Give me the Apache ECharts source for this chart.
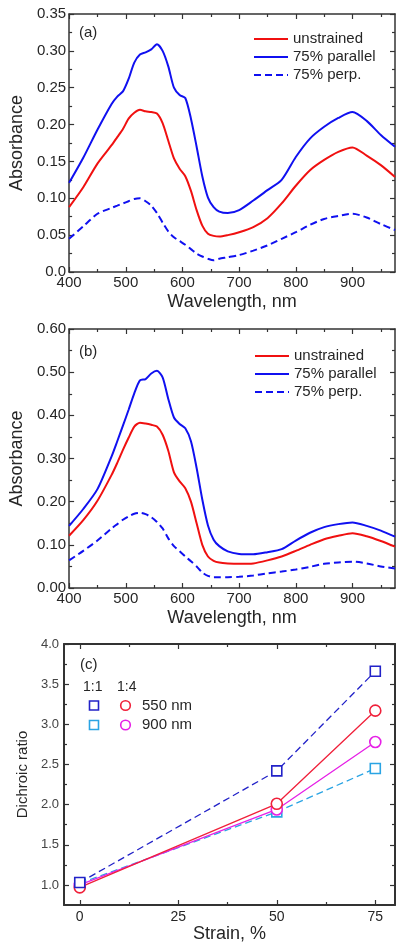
<!DOCTYPE html>
<html>
<head>
<meta charset="utf-8">
<script src="https://cdn.jsdelivr.net/npm/echarts@6/dist/echarts.min.js"></script>
<style>html,body{margin:0;padding:0;background:#fff}#chart{width:404px;height:950px}</style>
</head>
<body>
<div id="chart"></div>
<script>
// ---------- DATA ----------
const wavelengths = [400,425,450,475,485,495,505,515,525,535,545,555,565,575,585,595,605,615,625,635,645,655,665,680,700,725,750,775,800,825,850,875,900,925,950,975];

// Panel (a)
const aUnstrained = [0.088,0.115,0.147,0.172,0.183,0.194,0.208,0.216,0.220,0.218,0.217,0.215,0.202,0.178,0.154,0.140,0.130,0.110,0.084,0.063,0.052,0.049,0.048,0.050,0.054,0.061,0.073,0.093,0.117,0.138,0.152,0.163,0.169,0.158,0.145,0.129];
const aParallel   = [0.121,0.155,0.193,0.228,0.238,0.245,0.262,0.284,0.295,0.298,0.302,0.309,0.300,0.279,0.250,0.240,0.236,0.208,0.170,0.130,0.101,0.088,0.082,0.080,0.084,0.097,0.111,0.125,0.156,0.181,0.197,0.209,0.217,0.205,0.186,0.170];
const aPerp       = [0.045,0.062,0.079,0.087,0.090,0.093,0.096,0.099,0.100,0.096,0.090,0.080,0.067,0.055,0.047,0.042,0.037,0.031,0.025,0.021,0.018,0.016,0.018,0.020,0.023,0.029,0.036,0.045,0.054,0.064,0.072,0.076,0.079,0.074,0.065,0.057];

// Panel (b)
const bUnstrained = [0.121,0.157,0.202,0.262,0.290,0.320,0.348,0.374,0.383,0.381,0.378,0.374,0.355,0.318,0.268,0.247,0.231,0.200,0.150,0.100,0.073,0.063,0.059,0.057,0.056,0.057,0.064,0.073,0.086,0.100,0.113,0.121,0.127,0.120,0.109,0.096];
const bParallel   = [0.144,0.183,0.229,0.305,0.340,0.376,0.413,0.451,0.481,0.484,0.497,0.503,0.488,0.438,0.395,0.380,0.370,0.340,0.278,0.205,0.145,0.112,0.097,0.085,0.079,0.078,0.083,0.090,0.110,0.128,0.141,0.148,0.152,0.144,0.133,0.119];
const bPerp       = [0.064,0.086,0.110,0.138,0.148,0.158,0.166,0.172,0.174,0.171,0.164,0.153,0.138,0.115,0.097,0.085,0.073,0.062,0.050,0.036,0.028,0.025,0.025,0.025,0.026,0.029,0.034,0.038,0.043,0.049,0.056,0.059,0.061,0.057,0.050,0.045];

// Panel (c)
const strain = [0, 50, 75];
const ratio11_550 = [1.03, 2.42, 3.66];
const ratio11_900 = [1.02, 1.91, 2.45];
const ratio14_550 = [0.97, 2.01, 3.17];
const ratio14_900 = [1.00, 1.94, 2.78];

// Tick values
const wlMajor = [400,500,600,700,800,900];
const wlMinor = [450,550,650,750,850,950];
const aYMajor = [0,0.05,0.10,0.15,0.20,0.25,0.30,0.35];
const aYMinor = [0.025,0.075,0.125,0.175,0.225,0.275,0.325];
const bYMajor = [0,0.10,0.20,0.30,0.40,0.50,0.60];
const bYMinor = [0.05,0.15,0.25,0.35,0.45,0.55];
const cXMajor = [0,25,50,75];
const cXMinor = [12.5,37.5,62.5];
const cYMajor = [1.0,1.5,2.0,2.5,3.0,3.5,4.0];
const cYMinor = [1.25,1.75,2.25,2.75,3.25,3.75];

// ---------- BUILD ----------
const FONT = 'Liberation Sans, Arial, sans-serif';
const TXT = '#262626';
const AX = '#333';

function axes(dim, g, o) {
  const pos = dim === 'x' ? ['bottom','top'] : ['left','right'];
  const common = {type:'value', gridIndex:g, min:o.min, max:o.max, splitLine:{show:false}};
  const line = {show:true, onZero:false, lineStyle:{color:AX, width:o.lw || 1.5}};
  const noLine = {show:false, onZero:false};
  const majT = {show:true, inside:true, length:5, customValues:o.major, lineStyle:{color:AX, width:1.2}};
  const minT = {show:true, inside:true, length:3, customValues:o.minor, lineStyle:{color:AX, width:1.2}};
  return [
    Object.assign({}, common, {position:pos[0], axisLine:line, axisTick:majT,
      axisLabel:{show:true, customValues:o.major, formatter:o.fmt, fontFamily:FONT, fontSize:o.fs, color:o.lc || TXT, margin:o.margin},
      name:o.name, nameLocation:'middle', nameGap:o.nameGap,
      nameTextStyle:{fontFamily:FONT, fontSize:o.nfs, color:TXT}}),
    Object.assign({}, common, {position:pos[0], axisLine:noLine, axisTick:minT, axisLabel:{show:false}}),
    Object.assign({}, common, {position:pos[1], axisLine:line, axisTick:majT, axisLabel:{show:false}}),
    Object.assign({}, common, {position:pos[1], axisLine:noLine, axisTick:minT, axisLabel:{show:false}})
  ];
}

const xAxes = [].concat(
  axes('x',0,{min:400,max:975,major:wlMajor,minor:wlMinor,fmt:v=>String(v),fs:15,margin:3,name:'Wavelength, nm',nameGap:21,nfs:18}),
  axes('x',1,{min:400,max:975,major:wlMajor,minor:wlMinor,fmt:v=>String(v),fs:15,margin:3,name:'Wavelength, nm',nameGap:21,nfs:18}),
  axes('x',2,{min:-4,max:80,major:cXMajor,minor:cXMinor,fmt:v=>String(v),fs:14,margin:5,name:'Strain, %',nameGap:20,nfs:18,lw:2})
);
const yAxes = [].concat(
  axes('y',0,{min:0,max:0.35,major:aYMajor,minor:aYMinor,fmt:v=>(v===0?'0.0':v.toFixed(2)),fs:15,margin:3,name:'Absorbance',nameGap:39,nfs:18}),
  axes('y',1,{min:0,max:0.60,major:bYMajor,minor:bYMinor,fmt:v=>v.toFixed(2),fs:15,margin:3,name:'Absorbance',nameGap:39,nfs:18}),
  axes('y',2,{min:0.75,max:4.0,major:cYMajor,minor:cYMinor,fmt:v=>v.toFixed(1),fs:13,margin:5,name:'Dichroic ratio',nameGap:31,nfs:15,lw:2,lc:'#444'})
);

function zip(xs, ys){ return xs.map((x,i)=>[x, ys[i]]); }

const RED = '#f01010', BLUE = '#1010f0';
function spec(name, g, ys, color, dashed) {
  return {type:'line', name, xAxisIndex:4*g, yAxisIndex:4*g, data:zip(wavelengths, ys),
    smooth:0.25, symbol:'none', lineStyle:{color, width:2, type: dashed ? [7,4] : 'solid'},
    itemStyle:{color}, z:dashed?2:3};
}
function ratio(name, ys, color, sym, dashed, size) {
  return {type:'line', name, xAxisIndex:8, yAxisIndex:8, data:zip(strain, ys),
    symbol:sym, symbolSize:size, showSymbol:true,
    lineStyle:{color, width:1.3, type: dashed ? [7,4] : 'solid'},
    itemStyle:{color:'#fff', borderColor:color, borderWidth:1.6}};
}

const series = [
  spec('75% perp.',0,aPerp,BLUE,true),
  spec('unstrained',0,aUnstrained,RED,false),
  spec('75% parallel',0,aParallel,BLUE,false),
  spec('75% perp.',1,bPerp,BLUE,true),
  spec('unstrained',1,bUnstrained,RED,false),
  spec('75% parallel',1,bParallel,BLUE,false),
  ratio('1:1 900 nm', ratio11_900, '#2aa4e4', 'rect', true, 10),
  ratio('1:4 900 nm', ratio14_900, '#e620e6', 'circle', false, 11),
  ratio('1:4 550 nm', ratio14_550, '#f0203a', 'circle', false, 11),
  ratio('1:1 550 nm', ratio11_550, '#2222c8', 'rect', true, 10)
];

function legendAt(left, top) {
  return {orient:'vertical', left, top, padding:0, itemWidth:34, itemHeight:16, itemGap:2,
    data:['unstrained','75% parallel','75% perp.'], selectedMode:false,
    itemStyle:{opacity:0, borderWidth:0},
    textStyle:{fontFamily:FONT, fontSize:15, color:TXT, lineHeight:16}};
}

function txt(x, y, s, fs, align) {
  return {type:'text', left:x, top:y, style:{text:s, fontFamily:FONT, fontSize:fs, fill:TXT, textAlign:align||'left'}};
}

const graphic = [
  txt(79, 25, '(a)', 15),
  txt(79, 344, '(b)', 15),
  txt(80, 657, '(c)', 15),
  txt(83, 680, '1:1', 14),
  txt(117, 680, '1:4', 14),
  txt(142, 698, '550 nm', 15),
  txt(142, 717, '900 nm', 15),
  {type:'rect', shape:{x:89.5, y:701, width:9, height:9}, style:{fill:'#fff', stroke:'#2222c8', lineWidth:1.6}},
  {type:'rect', shape:{x:89.5, y:720.5, width:9, height:9}, style:{fill:'#fff', stroke:'#2aa4e4', lineWidth:1.6}},
  {type:'circle', shape:{cx:125.5, cy:705.5, r:4.8}, style:{fill:'#fff', stroke:'#f0203a', lineWidth:1.6}},
  {type:'circle', shape:{cx:125.5, cy:725, r:4.8}, style:{fill:'#fff', stroke:'#e620e6', lineWidth:1.6}}
];

const option = {
  animation:false,
  backgroundColor:'#fff',
  grid:[
    {left:64, top:14, width:331, height:258},
    {left:64, top:329, width:331, height:259},
    {left:64, top:644, width:331, height:261}
  ],
  xAxis:xAxes,
  yAxis:yAxes,
  legend:[legendAt(253, 31), legendAt(254, 348)],
  graphic,
  series
};

const chart = echarts.init(document.getElementById('chart'), null, {renderer:'canvas'});
chart.setOption(option);
</script>
</body>
</html>
